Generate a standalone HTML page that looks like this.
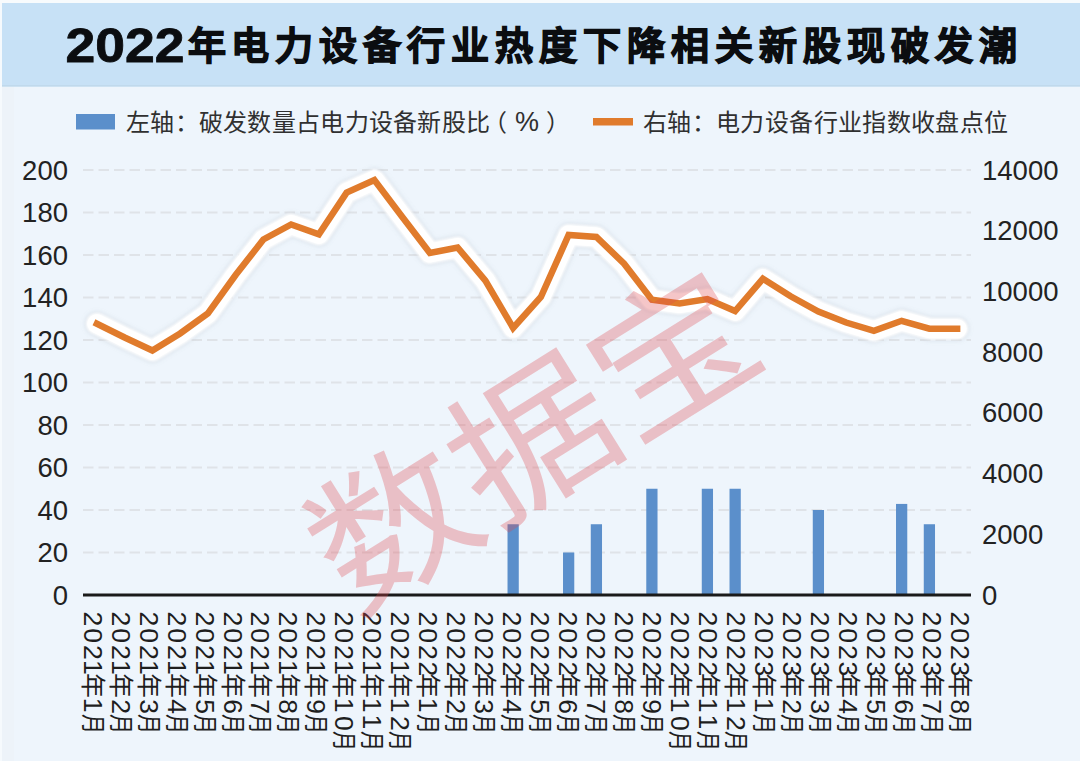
<!DOCTYPE html>
<html lang="zh-CN"><head><meta charset="utf-8">
<style>
html,body{margin:0;padding:0;width:1080px;height:761px;overflow:hidden;background:#eef5fc;}
svg{display:block;font-family:"Liberation Sans", sans-serif;}
</style></head><body>
<svg width="1080" height="761" viewBox="0 0 1080 761">
<defs>
<filter id="sh" x="-5%" y="-30%" width="110%" height="160%">
<feGaussianBlur stdDeviation="2"/>
</filter>
<filter id="wb" x="-5%" y="-30%" width="110%" height="160%"><feGaussianBlur stdDeviation="1"/></filter>
</defs>
<rect x="0" y="0" width="1080" height="761" fill="#eef5fc"/>
<rect x="0" y="0" width="2" height="761" fill="#f6fafd"/>
<rect x="2" y="0" width="12" height="761" fill="#edf2f7" opacity="0.6"/>
<rect x="0" y="0" width="1080" height="3" fill="#f8fbfd"/>
<rect x="2" y="3" width="1078" height="83.5" fill="#c7e1f6"/>
<rect x="2" y="85" width="1078" height="1.5" fill="#c0d9ec"/>

<text x="65.5" y="61.5" font-size="48" font-weight="bold" fill="#0b0d10" stroke="#0b0d10" stroke-width="0.8" textLength="119" lengthAdjust="spacingAndGlyphs">2022</text>
<text x="187.5" y="58.5" font-size="38" font-weight="900" fill="#0b0d10" stroke="#0b0d10" stroke-width="1.3" textLength="829.5" lengthAdjust="spacing">年电力设备行业热度下降相关新股现破发潮</text>
<rect x="76" y="114" width="39" height="15.5" fill="#5b8fcb"/>
<text x="126" y="130.5" font-size="24" font-weight="300" fill="#303030" textLength="364" lengthAdjust="spacing">左轴：破发数量占电力设备新股比</text>
<text x="483" y="130.5" font-size="24" fill="#303030">（</text><text x="515" y="130.5" font-size="27" fill="#303030">%</text><text x="545.6" y="130.5" font-size="24" fill="#303030">）</text>
<rect x="593" y="118" width="40" height="7.5" fill="#e07b2c"/>
<text x="643" y="130.5" font-size="24" font-weight="300" fill="#303030" textLength="365" lengthAdjust="spacing">右轴：电力设备行业指数收盘点位</text>
<line x1="83.0" y1="552.5" x2="971.0" y2="552.5" stroke="#dfe3e8" stroke-width="2" stroke-dasharray="10.5 5"/>
<line x1="83.0" y1="510.0" x2="971.0" y2="510.0" stroke="#dfe3e8" stroke-width="2" stroke-dasharray="10.5 5"/>
<line x1="83.0" y1="467.5" x2="971.0" y2="467.5" stroke="#dfe3e8" stroke-width="2" stroke-dasharray="10.5 5"/>
<line x1="83.0" y1="425.0" x2="971.0" y2="425.0" stroke="#dfe3e8" stroke-width="2" stroke-dasharray="10.5 5"/>
<line x1="83.0" y1="382.5" x2="971.0" y2="382.5" stroke="#dfe3e8" stroke-width="2" stroke-dasharray="10.5 5"/>
<line x1="83.0" y1="340.0" x2="971.0" y2="340.0" stroke="#dfe3e8" stroke-width="2" stroke-dasharray="10.5 5"/>
<line x1="83.0" y1="297.5" x2="971.0" y2="297.5" stroke="#dfe3e8" stroke-width="2" stroke-dasharray="10.5 5"/>
<line x1="83.0" y1="255.0" x2="971.0" y2="255.0" stroke="#dfe3e8" stroke-width="2" stroke-dasharray="10.5 5"/>
<line x1="83.0" y1="212.5" x2="971.0" y2="212.5" stroke="#dfe3e8" stroke-width="2" stroke-dasharray="10.5 5"/>
<line x1="83.0" y1="170.0" x2="971.0" y2="170.0" stroke="#dfe3e8" stroke-width="2" stroke-dasharray="10.5 5"/>
<rect x="507.52" y="524.24" width="11.25" height="70.76" fill="#5b8fcb"/>
<rect x="563.02" y="552.50" width="11.25" height="42.50" fill="#5b8fcb"/>
<rect x="590.77" y="524.24" width="11.25" height="70.76" fill="#5b8fcb"/>
<rect x="646.27" y="488.75" width="11.25" height="106.25" fill="#5b8fcb"/>
<rect x="701.77" y="488.75" width="11.25" height="106.25" fill="#5b8fcb"/>
<rect x="729.52" y="488.75" width="11.25" height="106.25" fill="#5b8fcb"/>
<rect x="812.77" y="510.00" width="11.25" height="85.00" fill="#5b8fcb"/>
<rect x="896.02" y="503.92" width="11.25" height="91.08" fill="#5b8fcb"/>
<rect x="923.77" y="524.24" width="11.25" height="70.76" fill="#5b8fcb"/>
<rect x="83.0" y="593.5" width="888.0" height="3" fill="#1a1a1a"/>
<polyline points="96.88,323.7 124.62,337.5 152.38,350.5 180.12,333.5 207.88,313.5 235.62,275 263.38,239.5 291.12,224.5 318.88,234.3 346.62,192.6 374.38,180.1 402.12,216.7 429.88,253 457.62,247.5 485.38,280.6 513.12,328 540.88,297 568.62,235 596.38,236.9 624.12,263.7 651.88,299.8 679.62,303.5 707.38,299 735.12,311 762.88,278.7 790.62,296.3 818.38,311.5 846.12,322.5 873.88,330.8 901.62,320.8 929.38,328.7 957.12,328.7" fill="none" stroke="#8a96a3" stroke-opacity="0.22" stroke-width="24" stroke-linejoin="round" stroke-linecap="round" filter="url(#sh)"/>
<polyline points="96.88,323.7 124.62,337.5 152.38,350.5 180.12,333.5 207.88,313.5 235.62,275 263.38,239.5 291.12,224.5 318.88,234.3 346.62,192.6 374.38,180.1 402.12,216.7 429.88,253 457.62,247.5 485.38,280.6 513.12,328 540.88,297 568.62,235 596.38,236.9 624.12,263.7 651.88,299.8 679.62,303.5 707.38,299 735.12,311 762.88,278.7 790.62,296.3 818.38,311.5 846.12,322.5 873.88,330.8 901.62,320.8 929.38,328.7 957.12,328.7" fill="none" stroke="#ffffff" stroke-width="22" stroke-linejoin="round" stroke-linecap="round" filter="url(#wb)" opacity="0.9"/>
<polyline points="96.88,323.7 124.62,337.5 152.38,350.5 180.12,333.5 207.88,313.5 235.62,275 263.38,239.5 291.12,224.5 318.88,234.3 346.62,192.6 374.38,180.1 402.12,216.7 429.88,253 457.62,247.5 485.38,280.6 513.12,328 540.88,297 568.62,235 596.38,236.9 624.12,263.7 651.88,299.8 679.62,303.5 707.38,299 735.12,311 762.88,278.7 790.62,296.3 818.38,311.5 846.12,322.5 873.88,330.8 901.62,320.8 929.38,328.7 957.12,328.7" fill="none" stroke="#ffffff" stroke-width="19" stroke-linejoin="round" stroke-linecap="round"/>
<polyline points="96.88,323.7 124.62,337.5 152.38,350.5 180.12,333.5 207.88,313.5 235.62,275 263.38,239.5 291.12,224.5 318.88,234.3 346.62,192.6 374.38,180.1 402.12,216.7 429.88,253 457.62,247.5 485.38,280.6 513.12,328 540.88,297 568.62,235 596.38,236.9 624.12,263.7 651.88,299.8 679.62,303.5 707.38,299 735.12,311 762.88,278.7 790.62,296.3 818.38,311.5 846.12,322.5 873.88,330.8 901.62,320.8 929.38,328.7 957.12,328.7" fill="none" stroke="#e07b2c" stroke-width="6.5" stroke-linejoin="miter" stroke-linecap="square"/>
<text x="68" y="604.5" font-size="27.5" fill="#222" text-anchor="end">0</text>
<text x="68" y="562.0" font-size="27.5" fill="#222" text-anchor="end">20</text>
<text x="68" y="519.5" font-size="27.5" fill="#222" text-anchor="end">40</text>
<text x="68" y="477.0" font-size="27.5" fill="#222" text-anchor="end">60</text>
<text x="68" y="434.5" font-size="27.5" fill="#222" text-anchor="end">80</text>
<text x="68" y="392.0" font-size="27.5" fill="#222" text-anchor="end">100</text>
<text x="68" y="349.5" font-size="27.5" fill="#222" text-anchor="end">120</text>
<text x="68" y="307.0" font-size="27.5" fill="#222" text-anchor="end">140</text>
<text x="68" y="264.5" font-size="27.5" fill="#222" text-anchor="end">160</text>
<text x="68" y="222.0" font-size="27.5" fill="#222" text-anchor="end">180</text>
<text x="68" y="179.5" font-size="27.5" fill="#222" text-anchor="end">200</text>
<text x="982" y="604.5" font-size="27.5" fill="#222">0</text>
<text x="982" y="543.8" font-size="27.5" fill="#222">2000</text>
<text x="982" y="483.1" font-size="27.5" fill="#222">4000</text>
<text x="982" y="422.4" font-size="27.5" fill="#222">6000</text>
<text x="982" y="361.6" font-size="27.5" fill="#222">8000</text>
<text x="982" y="300.9" font-size="27.5" fill="#222">10000</text>
<text x="982" y="240.2" font-size="27.5" fill="#222">12000</text>
<text x="982" y="179.5" font-size="27.5" fill="#222">14000</text>
<g transform="translate(83.60,611.5) rotate(90)" fill="#1e1e1e"><text x="0.0 16.7 33.4 48.5" y="0" font-size="26.5">2021</text><text x="61.2" y="0" font-size="25">年</text><text x="86.2" y="0" font-size="26.5">1</text><text x="102.4" y="0" font-size="25" textLength="20" lengthAdjust="spacingAndGlyphs">月</text></g>
<g transform="translate(111.58,611.5) rotate(90)" fill="#1e1e1e"><text x="0.0 16.7 33.4 48.5" y="0" font-size="26.5">2021</text><text x="61.2" y="0" font-size="25">年</text><text x="87.8" y="0" font-size="26.5">2</text><text x="102.4" y="0" font-size="25" textLength="20" lengthAdjust="spacingAndGlyphs">月</text></g>
<g transform="translate(139.56,611.5) rotate(90)" fill="#1e1e1e"><text x="0.0 16.7 33.4 48.5" y="0" font-size="26.5">2021</text><text x="61.2" y="0" font-size="25">年</text><text x="87.8" y="0" font-size="26.5">3</text><text x="102.4" y="0" font-size="25" textLength="20" lengthAdjust="spacingAndGlyphs">月</text></g>
<g transform="translate(167.54,611.5) rotate(90)" fill="#1e1e1e"><text x="0.0 16.7 33.4 48.5" y="0" font-size="26.5">2021</text><text x="61.2" y="0" font-size="25">年</text><text x="87.8" y="0" font-size="26.5">4</text><text x="102.4" y="0" font-size="25" textLength="20" lengthAdjust="spacingAndGlyphs">月</text></g>
<g transform="translate(195.52,611.5) rotate(90)" fill="#1e1e1e"><text x="0.0 16.7 33.4 48.5" y="0" font-size="26.5">2021</text><text x="61.2" y="0" font-size="25">年</text><text x="87.8" y="0" font-size="26.5">5</text><text x="102.4" y="0" font-size="25" textLength="20" lengthAdjust="spacingAndGlyphs">月</text></g>
<g transform="translate(223.50,611.5) rotate(90)" fill="#1e1e1e"><text x="0.0 16.7 33.4 48.5" y="0" font-size="26.5">2021</text><text x="61.2" y="0" font-size="25">年</text><text x="87.8" y="0" font-size="26.5">6</text><text x="102.4" y="0" font-size="25" textLength="20" lengthAdjust="spacingAndGlyphs">月</text></g>
<g transform="translate(251.48,611.5) rotate(90)" fill="#1e1e1e"><text x="0.0 16.7 33.4 48.5" y="0" font-size="26.5">2021</text><text x="61.2" y="0" font-size="25">年</text><text x="87.8" y="0" font-size="26.5">7</text><text x="102.4" y="0" font-size="25" textLength="20" lengthAdjust="spacingAndGlyphs">月</text></g>
<g transform="translate(279.46,611.5) rotate(90)" fill="#1e1e1e"><text x="0.0 16.7 33.4 48.5" y="0" font-size="26.5">2021</text><text x="61.2" y="0" font-size="25">年</text><text x="87.8" y="0" font-size="26.5">8</text><text x="102.4" y="0" font-size="25" textLength="20" lengthAdjust="spacingAndGlyphs">月</text></g>
<g transform="translate(307.44,611.5) rotate(90)" fill="#1e1e1e"><text x="0.0 16.7 33.4 48.5" y="0" font-size="26.5">2021</text><text x="61.2" y="0" font-size="25">年</text><text x="87.8" y="0" font-size="26.5">9</text><text x="102.4" y="0" font-size="25" textLength="20" lengthAdjust="spacingAndGlyphs">月</text></g>
<g transform="translate(335.42,611.5) rotate(90)" fill="#1e1e1e"><text x="0.0 16.7 33.4 48.5" y="0" font-size="26.5">2021</text><text x="61.2" y="0" font-size="25">年</text><text x="86.2 104.5" y="0" font-size="26.5">10</text><text x="119.1" y="0" font-size="25" textLength="20" lengthAdjust="spacingAndGlyphs">月</text></g>
<g transform="translate(363.40,611.5) rotate(90)" fill="#1e1e1e"><text x="0.0 16.7 33.4 48.5" y="0" font-size="26.5">2021</text><text x="61.2" y="0" font-size="25">年</text><text x="86.2 102.9" y="0" font-size="26.5">11</text><text x="119.1" y="0" font-size="25" textLength="20" lengthAdjust="spacingAndGlyphs">月</text></g>
<g transform="translate(391.38,611.5) rotate(90)" fill="#1e1e1e"><text x="0.0 16.7 33.4 48.5" y="0" font-size="26.5">2021</text><text x="61.2" y="0" font-size="25">年</text><text x="86.2 104.5" y="0" font-size="26.5">12</text><text x="119.1" y="0" font-size="25" textLength="20" lengthAdjust="spacingAndGlyphs">月</text></g>
<g transform="translate(419.36,611.5) rotate(90)" fill="#1e1e1e"><text x="0.0 16.7 33.4 50.1" y="0" font-size="26.5">2022</text><text x="61.2" y="0" font-size="25">年</text><text x="86.2" y="0" font-size="26.5">1</text><text x="102.4" y="0" font-size="25" textLength="20" lengthAdjust="spacingAndGlyphs">月</text></g>
<g transform="translate(447.34,611.5) rotate(90)" fill="#1e1e1e"><text x="0.0 16.7 33.4 50.1" y="0" font-size="26.5">2022</text><text x="61.2" y="0" font-size="25">年</text><text x="87.8" y="0" font-size="26.5">2</text><text x="102.4" y="0" font-size="25" textLength="20" lengthAdjust="spacingAndGlyphs">月</text></g>
<g transform="translate(475.32,611.5) rotate(90)" fill="#1e1e1e"><text x="0.0 16.7 33.4 50.1" y="0" font-size="26.5">2022</text><text x="61.2" y="0" font-size="25">年</text><text x="87.8" y="0" font-size="26.5">3</text><text x="102.4" y="0" font-size="25" textLength="20" lengthAdjust="spacingAndGlyphs">月</text></g>
<g transform="translate(503.30,611.5) rotate(90)" fill="#1e1e1e"><text x="0.0 16.7 33.4 50.1" y="0" font-size="26.5">2022</text><text x="61.2" y="0" font-size="25">年</text><text x="87.8" y="0" font-size="26.5">4</text><text x="102.4" y="0" font-size="25" textLength="20" lengthAdjust="spacingAndGlyphs">月</text></g>
<g transform="translate(531.28,611.5) rotate(90)" fill="#1e1e1e"><text x="0.0 16.7 33.4 50.1" y="0" font-size="26.5">2022</text><text x="61.2" y="0" font-size="25">年</text><text x="87.8" y="0" font-size="26.5">5</text><text x="102.4" y="0" font-size="25" textLength="20" lengthAdjust="spacingAndGlyphs">月</text></g>
<g transform="translate(559.26,611.5) rotate(90)" fill="#1e1e1e"><text x="0.0 16.7 33.4 50.1" y="0" font-size="26.5">2022</text><text x="61.2" y="0" font-size="25">年</text><text x="87.8" y="0" font-size="26.5">6</text><text x="102.4" y="0" font-size="25" textLength="20" lengthAdjust="spacingAndGlyphs">月</text></g>
<g transform="translate(587.24,611.5) rotate(90)" fill="#1e1e1e"><text x="0.0 16.7 33.4 50.1" y="0" font-size="26.5">2022</text><text x="61.2" y="0" font-size="25">年</text><text x="87.8" y="0" font-size="26.5">7</text><text x="102.4" y="0" font-size="25" textLength="20" lengthAdjust="spacingAndGlyphs">月</text></g>
<g transform="translate(615.22,611.5) rotate(90)" fill="#1e1e1e"><text x="0.0 16.7 33.4 50.1" y="0" font-size="26.5">2022</text><text x="61.2" y="0" font-size="25">年</text><text x="87.8" y="0" font-size="26.5">8</text><text x="102.4" y="0" font-size="25" textLength="20" lengthAdjust="spacingAndGlyphs">月</text></g>
<g transform="translate(643.20,611.5) rotate(90)" fill="#1e1e1e"><text x="0.0 16.7 33.4 50.1" y="0" font-size="26.5">2022</text><text x="61.2" y="0" font-size="25">年</text><text x="87.8" y="0" font-size="26.5">9</text><text x="102.4" y="0" font-size="25" textLength="20" lengthAdjust="spacingAndGlyphs">月</text></g>
<g transform="translate(671.18,611.5) rotate(90)" fill="#1e1e1e"><text x="0.0 16.7 33.4 50.1" y="0" font-size="26.5">2022</text><text x="61.2" y="0" font-size="25">年</text><text x="86.2 104.5" y="0" font-size="26.5">10</text><text x="119.1" y="0" font-size="25" textLength="20" lengthAdjust="spacingAndGlyphs">月</text></g>
<g transform="translate(699.16,611.5) rotate(90)" fill="#1e1e1e"><text x="0.0 16.7 33.4 50.1" y="0" font-size="26.5">2022</text><text x="61.2" y="0" font-size="25">年</text><text x="86.2 102.9" y="0" font-size="26.5">11</text><text x="119.1" y="0" font-size="25" textLength="20" lengthAdjust="spacingAndGlyphs">月</text></g>
<g transform="translate(727.14,611.5) rotate(90)" fill="#1e1e1e"><text x="0.0 16.7 33.4 50.1" y="0" font-size="26.5">2022</text><text x="61.2" y="0" font-size="25">年</text><text x="86.2 104.5" y="0" font-size="26.5">12</text><text x="119.1" y="0" font-size="25" textLength="20" lengthAdjust="spacingAndGlyphs">月</text></g>
<g transform="translate(755.12,611.5) rotate(90)" fill="#1e1e1e"><text x="0.0 16.7 33.4 50.1" y="0" font-size="26.5">2023</text><text x="61.2" y="0" font-size="25">年</text><text x="86.2" y="0" font-size="26.5">1</text><text x="102.4" y="0" font-size="25" textLength="20" lengthAdjust="spacingAndGlyphs">月</text></g>
<g transform="translate(783.10,611.5) rotate(90)" fill="#1e1e1e"><text x="0.0 16.7 33.4 50.1" y="0" font-size="26.5">2023</text><text x="61.2" y="0" font-size="25">年</text><text x="87.8" y="0" font-size="26.5">2</text><text x="102.4" y="0" font-size="25" textLength="20" lengthAdjust="spacingAndGlyphs">月</text></g>
<g transform="translate(811.08,611.5) rotate(90)" fill="#1e1e1e"><text x="0.0 16.7 33.4 50.1" y="0" font-size="26.5">2023</text><text x="61.2" y="0" font-size="25">年</text><text x="87.8" y="0" font-size="26.5">3</text><text x="102.4" y="0" font-size="25" textLength="20" lengthAdjust="spacingAndGlyphs">月</text></g>
<g transform="translate(839.06,611.5) rotate(90)" fill="#1e1e1e"><text x="0.0 16.7 33.4 50.1" y="0" font-size="26.5">2023</text><text x="61.2" y="0" font-size="25">年</text><text x="87.8" y="0" font-size="26.5">4</text><text x="102.4" y="0" font-size="25" textLength="20" lengthAdjust="spacingAndGlyphs">月</text></g>
<g transform="translate(867.04,611.5) rotate(90)" fill="#1e1e1e"><text x="0.0 16.7 33.4 50.1" y="0" font-size="26.5">2023</text><text x="61.2" y="0" font-size="25">年</text><text x="87.8" y="0" font-size="26.5">5</text><text x="102.4" y="0" font-size="25" textLength="20" lengthAdjust="spacingAndGlyphs">月</text></g>
<g transform="translate(895.02,611.5) rotate(90)" fill="#1e1e1e"><text x="0.0 16.7 33.4 50.1" y="0" font-size="26.5">2023</text><text x="61.2" y="0" font-size="25">年</text><text x="87.8" y="0" font-size="26.5">6</text><text x="102.4" y="0" font-size="25" textLength="20" lengthAdjust="spacingAndGlyphs">月</text></g>
<g transform="translate(923.00,611.5) rotate(90)" fill="#1e1e1e"><text x="0.0 16.7 33.4 50.1" y="0" font-size="26.5">2023</text><text x="61.2" y="0" font-size="25">年</text><text x="87.8" y="0" font-size="26.5">7</text><text x="102.4" y="0" font-size="25" textLength="20" lengthAdjust="spacingAndGlyphs">月</text></g>
<g transform="translate(950.98,611.5) rotate(90)" fill="#1e1e1e"><text x="0.0 16.7 33.4 50.1" y="0" font-size="26.5">2023</text><text x="61.2" y="0" font-size="25">年</text><text x="87.8" y="0" font-size="26.5">8</text><text x="102.4" y="0" font-size="25" textLength="20" lengthAdjust="spacingAndGlyphs">月</text></g>
<text transform="translate(562,487) rotate(-32)" font-size="152" font-weight="400" text-anchor="middle" fill="#e0464e" fill-opacity="0.31" textLength="492" lengthAdjust="spacingAndGlyphs">数据宝</text>
</svg></body></html>
